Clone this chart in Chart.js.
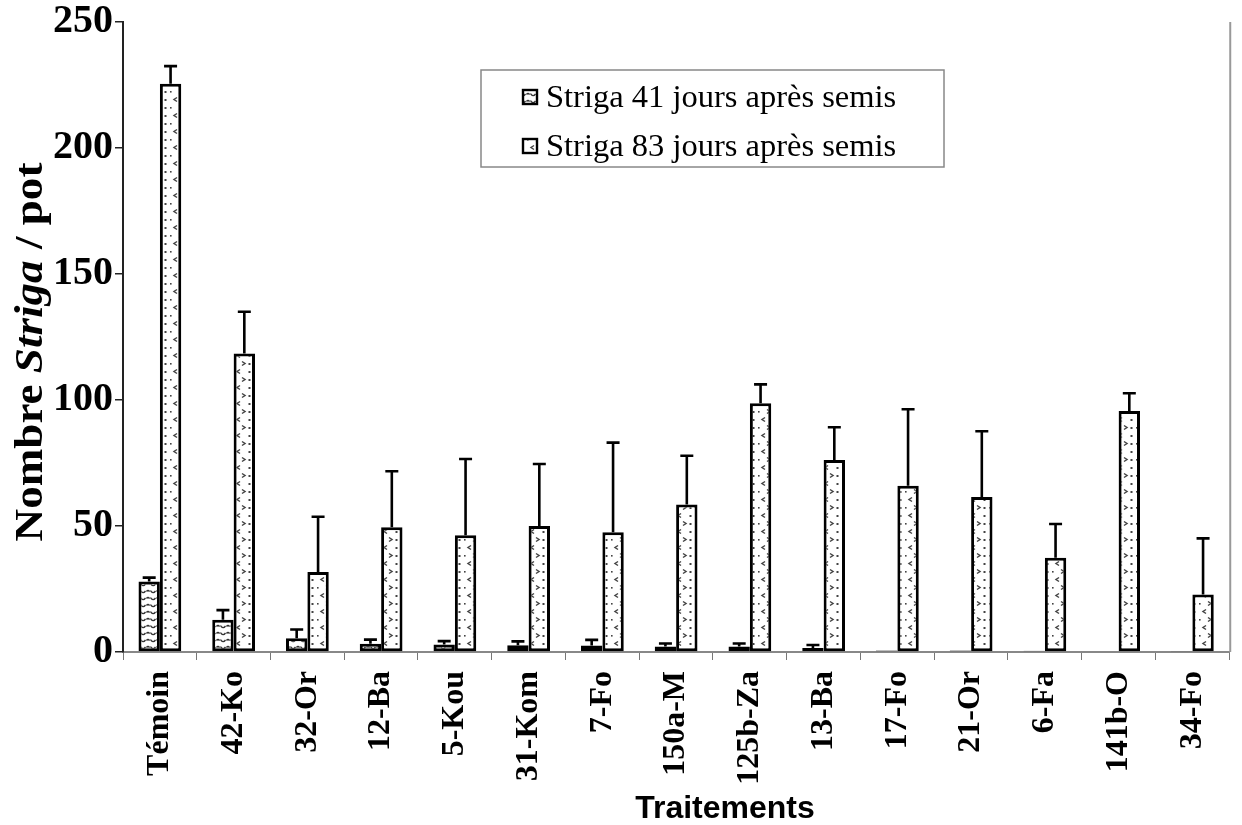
<!DOCTYPE html>
<html>
<head>
<meta charset="utf-8">
<script src="https://cdn.jsdelivr.net/npm/chart.js@4/dist/chart.umd.min.js"></script>
<style>
  html, body { margin: 0; padding: 0; background: #fff; }
  #wrap { width: 1242px; height: 825px; position: relative; }
</style>
</head>
<body>
<div id="wrap"><canvas id="c"></canvas></div>
<script>
// ---- Data ----
const categories = ['Témoin','42-Ko','32-Or','12-Ba','5-Kou','31-Kom','7-Fo','150a-M','125b-Za','13-Ba','17-Fo','21-Or','6-Fa','141b-O','34-Fo'];
const seriesLabels = ['Striga 41 jours après semis', 'Striga 83 jours après semis'];
const striga41 = [28, 12.8, 5.5, 3.3, 3, 2.7, 2.6, 2.2, 2.2, 1.6, 0.6, 0.6, 0.5, 0.3, 0.4];
const striga41Err = [1.5, 3.8, 3.4, 1.6, 1.3, 1.5, 2.2, 1.2, 1.2, 1.2, 0, 0, 0, 0, 0];
const striga83 = [225.5, 118.5, 31.7, 49.5, 46.3, 50, 47.5, 58.5, 98.7, 76.2, 66, 61.5, 37.4, 95.6, 22.8];
const striga83Err = [7, 16.5, 22, 22.2, 30.3, 24.6, 35.6, 19.4, 7.5, 13, 30.3, 26.1, 13.4, 7.1, 22.3];
const yTicks = [0, 50, 100, 150, 200, 250];
const xTitle = 'Traitements';
const yTitleParts = ['Nombre ', 'Striga', ' / pot'];

// ---- Patterns ----
function pattern41() {
  const c = document.createElement('canvas'); c.width = 10; c.height = 7;
  const g = c.getContext('2d');
  g.fillStyle = '#fff'; g.fillRect(0, 0, 10, 7);
  g.strokeStyle = '#333'; g.lineWidth = 1.3;
  g.beginPath();
  g.moveTo(0.5, 2.5); g.quadraticCurveTo(3, 6.5, 5.5, 3);
  g.stroke();
  g.beginPath();
  g.moveTo(6.5, 3.5); g.quadraticCurveTo(8, 1.5, 9.5, 3.5);
  g.stroke();
  return g.createPattern(c, 'repeat');
}
function pattern83() {
  const c = document.createElement('canvas'); c.width = 21; c.height = 16;
  const g = c.getContext('2d');
  g.fillStyle = '#fff'; g.fillRect(0, 0, 21, 16);
  g.strokeStyle = '#444'; g.lineWidth = 1.5;
  g.beginPath(); g.moveTo(9, 1.5); g.lineTo(6, 3.5); g.lineTo(9, 5.5); g.stroke();
  g.beginPath(); g.moveTo(11, 9.5); g.lineTo(14, 11.5); g.lineTo(11, 13.5); g.stroke();
  g.fillStyle = '#444';
  g.fillRect(17.5, 3, 2, 2); g.fillRect(17.5, 11, 2, 2);
  g.fillRect(2, 11, 1.6, 1.6);
  return g.createPattern(c, 'repeat');
}
const pat41 = pattern41();
const pat83 = pattern83();

// ---- Plugins ----
const errorBars = {
  id: 'errorBars',
  afterDatasetsDraw(chart) {
    const ctx = chart.ctx, ys = chart.scales.y;
    chart.data.datasets.forEach((ds, i) => {
      const meta = chart.getDatasetMeta(i);
      meta.data.forEach((bar, j) => {
        const e = ds.errors[j];
        if (!e) return;
        const top = ys.getPixelForValue(ds.data[j] + e);
        ctx.save();
        ctx.strokeStyle = '#000'; ctx.lineWidth = 2.6;
        ctx.beginPath();
        ctx.moveTo(bar.x, bar.y); ctx.lineTo(bar.x, top);
        ctx.moveTo(bar.x - 6.5, top); ctx.lineTo(bar.x + 6.5, top);
        ctx.stroke();
        ctx.restore();
      });
    });
  }
};

const decorations = {
  id: 'decorations',
  afterDraw(chart) {
    const ctx = chart.ctx, a = chart.chartArea;
    ctx.save();
    // right frame line
    ctx.strokeStyle = '#999'; ctx.lineWidth = 2;
    ctx.beginPath(); ctx.moveTo(a.right + 1, a.top); ctx.lineTo(a.right + 1, a.bottom); ctx.stroke();
    ctx.restore();

    // y-axis title with italic Striga
    ctx.save();
    const fam = '"Liberation Serif", "Times New Roman", serif';
    const fonts = ['bold 41px ' + fam, 'italic bold 41px ' + fam, 'bold 41px ' + fam];
    const widths = yTitleParts.map((t, k) => { ctx.font = fonts[k]; return ctx.measureText(t).width; });
    const total = widths.reduce((s, w) => s + w, 0);
    ctx.translate(31, 352);
    ctx.rotate(-Math.PI / 2);
    ctx.scale(1.1, 1);
    ctx.fillStyle = '#000'; ctx.textBaseline = 'middle'; ctx.textAlign = 'left';
    let x = -total / 2;
    yTitleParts.forEach((t, k) => { ctx.font = fonts[k]; ctx.fillText(t, x, 0); x += widths[k]; });
    ctx.restore();

    // x-axis title
    ctx.save();
    ctx.fillStyle = '#000';
    ctx.font = 'bold 32px "Liberation Sans", Arial, sans-serif';
    ctx.textAlign = 'center'; ctx.textBaseline = 'alphabetic';
    ctx.fillText(xTitle, 725, 818);
    ctx.restore();

    // legend
    ctx.save();
    const lx = 481, ly = 70, lw = 463, lh = 97;
    ctx.fillStyle = '#fff'; ctx.fillRect(lx, ly, lw, lh);
    ctx.strokeStyle = '#888'; ctx.lineWidth = 1.5;
    ctx.strokeRect(lx, ly, lw, lh);
    const rows = [97, 146];
    chart.data.datasets.forEach((ds, i) => {
      const y = rows[i];
      ctx.fillStyle = ds.backgroundColor;
      ctx.fillRect(523, y - 7, 14, 14);
      ctx.strokeStyle = '#000'; ctx.lineWidth = 2.4;
      ctx.strokeRect(523, y - 7, 14, 14);
      ctx.fillStyle = '#000';
      ctx.font = '32.5px "Liberation Serif", "Times New Roman", serif';
      ctx.textBaseline = 'middle'; ctx.textAlign = 'left';
      ctx.fillText(ds.label, 546, y + 1);
    });
    ctx.restore();
  }
};

// ---- Chart ----
new Chart(document.getElementById('c'), {
  type: 'bar',
  data: {
    labels: categories,
    datasets: [
      { label: seriesLabels[0], data: striga41, errors: striga41Err, backgroundColor: pat41,
        borderColor: '#000', borderWidth: 3, borderSkipped: false,
        categoryPercentage: 0.58, barPercentage: 1.0 },
      { label: seriesLabels[1], data: striga83, errors: striga83Err, backgroundColor: pat83,
        borderColor: '#000', borderWidth: 3, borderSkipped: false,
        categoryPercentage: 0.58, barPercentage: 1.0 }
    ]
  },
  options: {
    responsive: true,
    maintainAspectRatio: false,
    animation: false,
    devicePixelRatio: 1,
    layout: { padding: { left: 0, top: 22, right: 7, bottom: 0 } },
    plugins: { legend: { display: false }, tooltip: { enabled: false } },
    scales: {
      x: {
        grid: { display: true, drawOnChartArea: false, offset: true, tickLength: 8, color: '#777', lineWidth: 1 },
        border: { display: true, color: '#888', width: 2 },
        ticks: { minRotation: 90, maxRotation: 90, autoSkip: false, padding: 11, color: '#000',
                 font: { family: '"Liberation Serif", "Times New Roman", serif', size: 32, weight: 'bold' } },
        title: { display: false },
        afterFit(s) { s.height = 173; }
      },
      y: {
        min: 0, max: 250,
        afterBuildTicks(s) { s.ticks = yTicks.map(v => ({ value: v })); },
        grid: { display: true, drawOnChartArea: false, tickLength: 8, color: '#222', lineWidth: 1.5 },
        border: { display: true, color: '#222', width: 2 },
        ticks: { padding: 2, color: '#000',
                 font: { family: '"Liberation Serif", "Times New Roman", serif', size: 40, weight: 'bold', lineHeight: 1.0 } },
        afterFit(s) { s.width = 123; }
      }
    }
  },
  plugins: [errorBars, decorations]
});
</script>
</body>
</html>
